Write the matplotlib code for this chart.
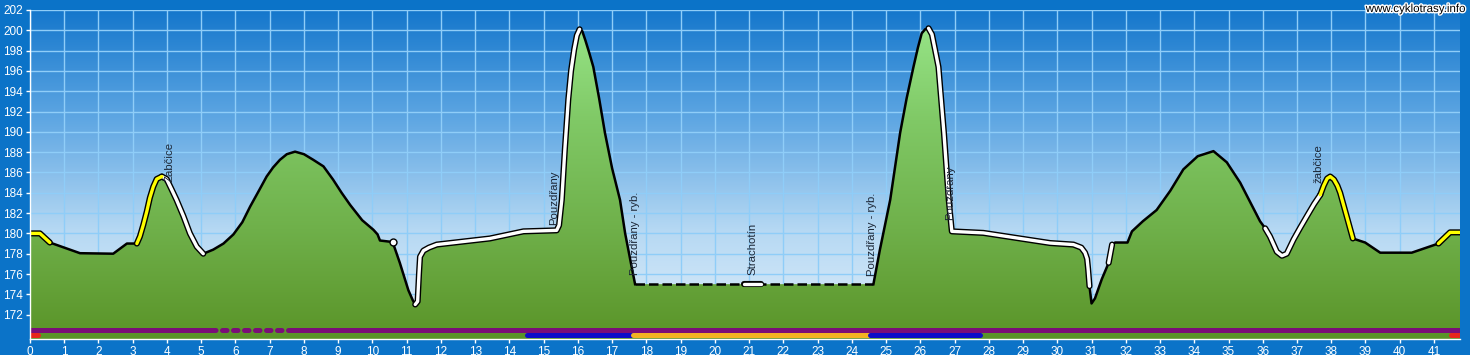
import matplotlib
matplotlib.use('Agg')
import matplotlib.pyplot as plt
import matplotlib.patheffects as pe
from matplotlib.colors import LinearSegmentedColormap
from matplotlib.patches import Polygon
import numpy as np

plt.rcParams['font.family'] = ['Liberation Sans', 'DejaVu Sans']

# elevation profile (km, m a.s.l.)
km = [0.0, 0.29, 0.58, 1.46, 2.43, 2.83, 3.12,
      3.21, 3.31, 3.41, 3.5, 3.6, 3.7, 3.85, 3.99, 4.14, 4.28, 4.48, 4.67, 4.87, 5.06,
      5.35, 5.65, 5.94, 6.2, 6.43, 6.7, 6.91, 7.1, 7.3, 7.5, 7.74, 8.0, 8.27, 8.57, 8.85,
      9.1, 9.35, 9.7, 10.03, 10.15, 10.22, 10.59,
      10.8, 11.05, 11.18, 11.25, 11.32, 11.36, 11.39, 11.49, 11.65, 11.88, 13.43, 14.41, 15.38,
      15.45, 15.53, 15.62, 15.72, 15.8, 15.89, 15.97, 16.05, 16.13, 16.22, 16.33, 16.45,
      16.62, 16.79, 17.0, 17.23, 17.38, 17.57, 17.67,
      20.85, 21.35, 24.63,
      24.82, 25.12, 25.41, 25.6, 25.8, 25.93, 26.04, 26.14, 26.24, 26.34, 26.43, 26.53,
      26.69, 26.83, 26.92,
      27.84, 29.79, 30.47, 30.7, 30.81, 30.87, 30.9, 30.94, 31.0, 31.1, 31.3, 31.5, 31.6,
      31.69, 32.05, 32.18,
      32.5, 32.9, 33.3, 33.68, 34.1, 34.56, 34.95, 35.34, 35.63, 35.92, 36.07,
      36.21, 36.41, 36.56, 36.7, 36.9, 37.1, 37.29, 37.5, 37.68, 37.78, 37.88, 37.97,
      38.08, 38.18, 38.26, 38.45, 38.63,
      38.99, 39.43, 40.35, 41.13, 41.47, 41.76]
elev = [180.0, 180.0, 179.1, 178.05, 178.0, 179.0, 179.0,
        179.7, 180.85, 182.15, 183.5, 184.6, 185.35, 185.6, 185.35, 184.3, 183.3, 181.7, 180.0, 178.7, 178.0,
        178.4, 179.0, 179.9, 181.1, 182.65, 184.3, 185.6, 186.5, 187.25, 187.8, 188.05, 187.8, 187.25, 186.6, 185.3,
        184.0, 182.8, 181.3, 180.35, 179.9, 179.3, 179.15,
        177.1, 174.4, 173.4, 173.0, 173.3, 176.0, 177.7, 178.3, 178.6, 178.9, 179.5, 180.2, 180.3,
        180.8, 183.3, 188.3, 193.2, 196.0, 198.1, 199.5, 200.1, 199.9, 199.0, 197.8, 196.4,
        193.3, 189.9, 186.4, 183.3, 180.0, 176.7, 175.0,
        175.0, 175.0, 175.0,
        178.4, 183.3, 189.9, 193.3, 196.4, 198.3, 199.7, 200.1, 200.2, 199.6, 198.1, 196.4,
        189.9, 183.3, 180.2,
        180.05, 179.05, 178.9, 178.6, 178.1, 177.5, 176.5, 174.8, 173.1, 173.6, 175.5, 177.1, 178.9,
        179.1, 179.1, 180.2,
        181.2, 182.3, 184.2, 186.3, 187.6, 188.1, 187.0, 185.0, 183.1, 181.2, 180.5,
        179.7, 178.2, 177.8, 178.0, 179.4, 180.6, 181.7, 182.9, 183.8, 184.7, 185.4, 185.6,
        185.3, 184.7, 184.0, 181.7, 179.5,
        179.1, 178.1, 178.1, 179.0, 180.1, 180.1]

# highlighted stretches (start km, end km)
yellow_parts = [(0.0, 0.58), (3.12, 3.85), (37.68, 38.63), (41.13, 41.76)]
white_parts = [(3.85, 5.06), (11.25, 16.05), (20.85, 21.35), (26.24, 30.94),
               (31.5, 31.6), (36.07, 37.68)]
dashed_part = (17.67, 24.63)
dot_km = [10.59]
dot_elev = [179.15]

# waypoint labels
label_names = ['Žabčice', 'Pouzdřany', 'Pouzdřany - ryb.', 'Strachotín',
               'Pouzdřany - ryb.', 'Pouzdřany', 'žabčice']
label_km = [4.09, 15.3, 17.67, 21.09, 24.58, 26.87, 37.63]
label_elev = [185.1, 180.8, 175.9, 175.9, 175.8, 181.3, 185.0]

# surface / route type bars at the bottom
surface_start = [0.0, 5.3, 7.63]
surface_end = [5.3, 7.63, 41.76]
surface_style = ['solid', 'dotted', 'solid']
route_start = [0.0, 14.52, 17.6, 24.53, 41.5]
route_end = [0.22, 17.6, 24.53, 27.74, 41.76]
route_colors = ['#e8261c', '#0d0dc8', '#f3b322', '#0d0dc8', '#e8261c']

x_max = 41.76
y_min, y_max = 169.6, 202.0
bg = '#0b73c8'

fig = plt.figure(figsize=(14.7, 3.55), dpi=100, facecolor=bg)
ax = fig.add_axes([30 / 1470, 16 / 355, 1430 / 1470, 329 / 355])
ax.set_xlim(0, x_max)
ax.set_ylim(y_min, y_max)

# sky gradient
sky = LinearSegmentedColormap.from_list('sky', ['#e2f0fb', '#b5d8f3', '#5fa7e3', '#1577cc'])
grad = np.linspace(0, 1, 256).reshape(-1, 1)
ax.imshow(grad, extent=[0, x_max, y_min, y_max], origin='lower', aspect='auto',
          cmap=sky, zorder=0.1)

# green terrain gradient clipped to the profile
kx = np.array(km)
ey = np.array(elev)
verts = [(kx[0], y_min)] + list(zip(kx, ey)) + [(kx[-1], y_min)]
poly = Polygon(verts, closed=True, transform=ax.transData, facecolor='none', edgecolor='none')
ax.add_patch(poly)
green = LinearSegmentedColormap.from_list('green', ['#5a9428', '#6fb04a', '#80c966', '#9ae88c'])
gim = ax.imshow(grad, extent=[0, x_max, y_min, y_max], origin='lower', aspect='auto',
                cmap=green, zorder=1)
gim.set_clip_path(poly)

ax.set_xticks(range(0, 42))
ax.set_yticks(range(172, 203, 2))
ax.set_axisbelow(True)
ax.grid(color='#8fcdf8', lw=1)

# profile line
m1 = kx <= dashed_part[0]
m2 = kx >= dashed_part[1]
md = (kx >= dashed_part[0]) & (kx <= dashed_part[1])
ax.plot(kx[m1], ey[m1], color='black', lw=1.8, zorder=3, solid_joinstyle='round')
ax.plot(kx[m2], ey[m2], color='black', lw=1.8, zorder=3, solid_joinstyle='round')
ax.plot(kx[md], ey[md], color='black', lw=1.8, zorder=3, dashes=(3.8, 1.6))

for parts, col in [(white_parts, 'white'), (yellow_parts, '#ffff00')]:
    for a, b in parts:
        m = (kx >= a) & (kx <= b)
        ax.plot(kx[m], ey[m], color='black', lw=4.4, solid_capstyle='round',
                solid_joinstyle='round', zorder=4)
        ax.plot(kx[m], ey[m], color=col, lw=2.4, solid_capstyle='round',
                solid_joinstyle='round', zorder=4.1)

ax.plot(dot_km, dot_elev, 'o', mfc='white', mec='black', ms=5, mew=1, zorder=4.2)

for name, k, e in zip(label_names, label_km, label_elev):
    ax.text(k, e, name, rotation=90, ha='center', va='bottom', fontsize=8.2,
            color='#1b2636', zorder=5)

# bottom bars
for a, b, s in zip(surface_start, surface_end, surface_style):
    if s == 'solid':
        ax.plot([a, b], [170.5, 170.5], color='#7a0e77', lw=3.6, solid_capstyle='butt', zorder=3)
    else:
        ax.plot([a, b], [170.5, 170.5], color='#7a0e77', lw=3.6, dash_capstyle='round',
                dashes=(0.9, 1.3), zorder=3)
for a, b, c in zip(route_start, route_end, route_colors):
    ax.plot([a, b], [169.95, 169.95], color=c, lw=3.6, solid_capstyle='round', zorder=3)

for s in ['top', 'right']:
    ax.spines[s].set_visible(False)
for s in ['left', 'bottom']:
    ax.spines[s].set_color('white')
    ax.spines[s].set_linewidth(1)
    ax.spines[s].set_zorder(6)
ax.tick_params(colors='white', labelsize=8.5, length=3, width=1, pad=2)

fig.text(1465 / 1470, 1 - 3 / 355, 'www.cyklotrasy.info', ha='right', va='top',
         fontsize=8.3, color='black',
         path_effects=[pe.withStroke(linewidth=2, foreground='white')])

fig.savefig('out.png', dpi=100, facecolor=bg)
